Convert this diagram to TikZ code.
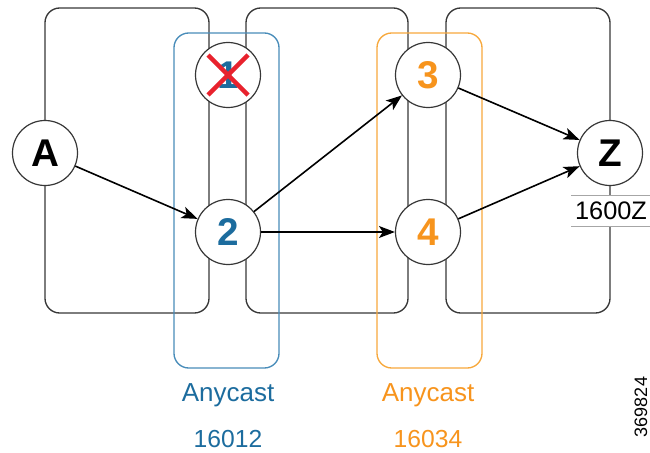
\documentclass[tikz,border=0pt]{standalone}
\usepackage{fontspec}
\setmainfont{Liberation Sans}
\usetikzlibrary{arrows.meta}
\definecolor{anyblue}{RGB}{28,108,158}
\definecolor{boxblue}{RGB}{72,140,185}
\definecolor{anyorange}{RGB}{247,148,29}
\definecolor{boxorange}{RGB}{247,168,60}
\definecolor{crossred}{RGB}{232,34,45}
\definecolor{linegray}{RGB}{55,55,55}
\begin{document}
\begin{tikzpicture}[x=0.75pt,y=-0.75pt,
  router/.style={circle,draw=linegray,line width=0.9pt,fill=white,minimum size=48.75pt,inner sep=0pt,font=\fontsize{29}{29}\selectfont\bfseries},
  igpbox/.style={draw=linegray,line width=1pt,rounded corners=11pt},
  anybox/.style={line width=1pt,rounded corners=11pt},
  link/.style={-{Stealth[length=12pt,width=9pt,inset=3pt]},line width=1.2pt}]
\useasboundingbox (0,0) rectangle (650,453);
% IGP domains
\draw[igpbox] (45,8) rectangle (209,313);
\draw[igpbox] (246,8) rectangle (408,313);
\draw[igpbox] (446,8) rectangle (610,313);
% anycast groups
\draw[anybox,draw=boxblue] (174,33) rectangle (279,368);
\draw[anybox,draw=boxorange] (377,33) rectangle (482,368);
% routers
\node[router] (A) at (45,153) {A};
\node[router,text=anyblue] (r1) at (228,75) {1};
\node[router,text=anyblue] (r2) at (228,232) {2};
\node[router,text=anyorange] (r3) at (428,75) {3};
\node[router,text=anyorange] (r4) at (428,232) {4};
\node[router] (Z) at (610,153) {Z};
\node[fill=white,inner xsep=2.5pt,inner ysep=0pt,minimum height=22.5pt,font=\fontsize{19}{19}\selectfont] (sid) at (611,211) {1600Z};
\draw[gray!70,line width=0.6pt] (sid.north west) -- (sid.north east);
\draw[gray!70,line width=0.6pt] (sid.south west) -- (sid.south east);
% paths
\draw[link] (A) -- (r2);
\draw[link] (r2) -- (r3);
\draw[link] (r2) -- (r4);
\draw[link] (r3) -- (Z);
\draw[link] (r4) -- (Z);
% failed node
\draw[crossred,line width=3.4pt] (r1.center) ++(-20,-20) -- ++(40,40);
\draw[crossred,line width=3.4pt] (r1.center) ++(20,-20) -- ++(-40,40);
% anycast labels
\node[text=anyblue,font=\fontsize{19.5}{19.5}\selectfont] (any12) at (228,395) {Anycast};
\node[text=anyblue,font=\fontsize{18.5}{18.5}\selectfont] (sid12) at (228,439) {16012};
\node[text=anyorange,font=\fontsize{19.5}{19.5}\selectfont] (any34) at (428,395) {Anycast};
\node[text=anyorange,font=\fontsize{18.5}{18.5}\selectfont] (sid34) at (428,439) {16034};
\node[rotate=90,font=\fontsize{13.5}{13.5}\selectfont] (figid) at (641,407) {369824};
\end{tikzpicture}
\end{document}
